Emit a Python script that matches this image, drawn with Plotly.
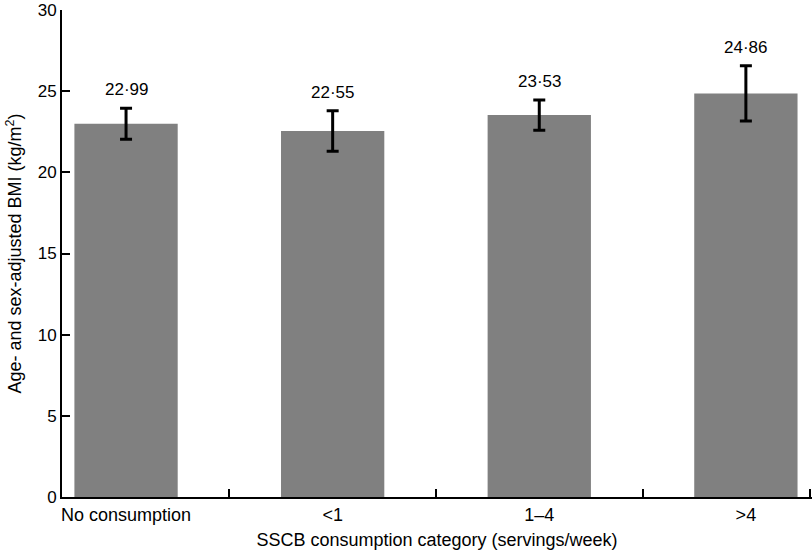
import plotly.graph_objects as go

categories = ["No consumption", "<1", "1–4", ">4"]
bmi_values = [22.99, 22.55, 23.53, 24.86]
bmi_errors = [0.95, 1.25, 0.93, 1.7]
value_labels = ["22·99", "22·55", "23·53", "24·86"]
y_ticks = [0, 5, 10, 15, 20, 25, 30]

xpos = list(range(len(categories)))
boundaries = [0.5, 1.5, 2.5, 3.31]

font = "Liberation Sans, Arial, sans-serif"

fig = go.Figure()
fig.add_trace(go.Bar(
    x=xpos, y=bmi_values, width=0.5,
    marker=dict(color="#808080", line=dict(width=0)),
    error_y=dict(type="data", array=bmi_errors, visible=True,
                 color="black", thickness=3, width=6),
    showlegend=False, hoverinfo="skip",
))

for x, v, e, t in zip(xpos, bmi_values, bmi_errors, value_labels):
    fig.add_annotation(x=x, y=v + e, text=t, showarrow=False,
                       yanchor="bottom", yshift=7,
                       font=dict(size=17, color="black", family=font))

fig.update_layout(
    width=812, height=550,
    margin=dict(l=62, r=0, t=10, b=53),
    paper_bgcolor="white", plot_bgcolor="white",
    font=dict(family=font, size=17, color="black"),
    xaxis=dict(
        range=[-0.31, 3.32], tickmode="array", tickvals=xpos, ticktext=categories,
        ticks="", showline=True, linecolor="black", linewidth=2,
        showgrid=False, zeroline=False, automargin=False,
        minor=dict(ticks="inside", tickmode="array", tickvals=boundaries,
                   ticklen=8, tickwidth=2, tickcolor="black", showgrid=False),
        title=dict(text="SSCB consumption category (servings/week)", standoff=10,
                   font=dict(size=18)),
        tickfont=dict(size=18),
    ),
    yaxis=dict(
        range=[0, 30], tickmode="array", tickvals=y_ticks,
        ticks="inside", ticklen=8, tickwidth=2, tickcolor="black",
        showline=True, linecolor="black", linewidth=2,
        showgrid=False, zeroline=False, automargin=False,
        title=dict(text="Age- and sex-adjusted BMI (kg/m<sup>2</sup>)", standoff=11,
                   font=dict(size=18)),
        tickfont=dict(size=17),
    ),
)

fig.write_html("out.html", config={"displayModeBar": False},
               post_script="document.body.style.margin='0';")
